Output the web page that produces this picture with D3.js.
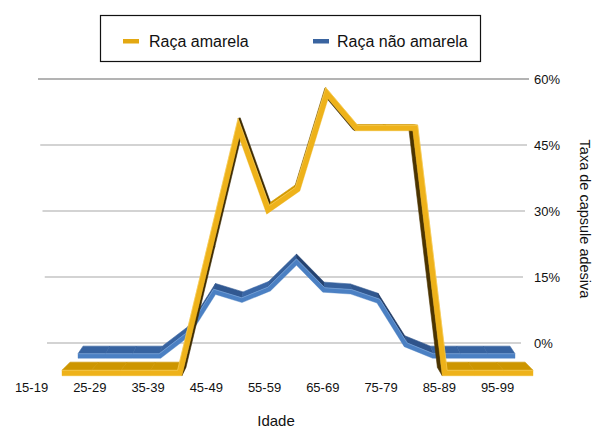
<!DOCTYPE html>
<html>
<head>
<meta charset="utf-8">
<script src="https://cdn.jsdelivr.net/npm/d3@7"></script>
<style>
  html, body { margin: 0; padding: 0; background: #fff; }
  svg { display: block; font-family: "Liberation Sans", Arial, Helvetica, sans-serif; }
</style>
</head>
<body>
<svg id="chart" width="595" height="428"></svg>
<script>
// ---- data ----
const categories = ["15-19","20-24","25-29","30-34","35-39","40-44","45-49","50-54","55-59",
                    "60-64","65-69","70-74","75-79","80-84","85-89","90-94","95-99"];
const tickLabels = ["15-19","25-29","35-39","45-49","55-59","65-69","75-79","85-89","95-99"];
const yellowValues = [0,0,0,0,0,25,50,33.3,37.5,57.1,50,50,50,0,0,0,0];   // Raça amarela
const blueValues   = [0,0,0,0,4.5,13.8,12,14.4,20.2,14.2,13.8,11.8,2.4,0,0,0,0]; // Raça não amarela
const yTicks = [0,15,30,45,60];
const seriesNames = ["Raça amarela","Raça não amarela"];

const svg = d3.select("#chart");

// ---- scales ----
const xLabel  = d3.scalePoint().domain(categories).range([31, 497]);
const xYellow = d3.scalePoint().domain(categories).range([62, 533]);
const xBlue   = d3.scalePoint().domain(categories).range([78, 515]);
const yWall   = d3.scaleLinear().domain([0, 60]).range([343, 79]);
const yYellow = d3.scaleLinear().domain([0, 60]).range([373, 79]);
const yBlue   = d3.scaleLinear().domain([0, 60]).range([356, 77]);
const gridLeft  = d3.scaleLinear().domain([0, 60]).range([47, 38]);
const gridRight = d3.scaleLinear().domain([0, 60]).range([521, 529]);

// ---- back wall gridlines ----
svg.append("g").selectAll("line").data(yTicks).join("line")
  .attr("x1", d => gridLeft(d)).attr("x2", d => gridRight(d))
  .attr("y1", d => yWall(d)).attr("y2", d => yWall(d))
  .attr("stroke", d => d === 60 ? "#9a9a9a" : "#c4c4c4")
  .attr("stroke-width", 1.6);

// y tick labels (right)
svg.append("g").selectAll("text").data(yTicks).join("text")
  .attr("x", 534).attr("y", d => yWall(d)).attr("dy", "0.35em")
  .attr("font-size", 13).attr("fill", "#111")
  .text(d => d + "%");

// y axis title
svg.append("text")
  .attr("transform", "translate(580,219) rotate(90)")
  .attr("text-anchor", "middle").attr("font-size", 14.5).attr("fill", "#111")
  .text("Taxa de capsule adesiva");

// ---- 3D ribbon ----
function ribbon(g, pts, w, cols, V, fx, fy) {
  const n = pts.length;
  const dirs = [], norms = [];
  for (let i = 0; i < n - 1; i++) {
    const dx = pts[i+1][0] - pts[i][0], dy = pts[i+1][1] - pts[i][1];
    const L = Math.hypot(dx, dy);
    dirs.push([dx / L, dy / L]);
    norms.push([dy / L, -dx / L]);
  }
  const U = [], Lo = [];
  for (let i = 0; i < n; i++) {
    let m, len;
    if (i === 0) { m = norms[0]; len = w / 2; }
    else if (i === n - 1) { m = norms[n - 2]; len = w / 2; }
    else {
      const a = norms[i-1], b = norms[i];
      let mx = a[0] + b[0], my = a[1] + b[1];
      const ml = Math.hypot(mx, my) || 1;
      m = [mx / ml, my / ml];
      const c = m[0] * a[0] + m[1] * a[1];
      len = Math.min((w / 2) / Math.max(c, 0.05), w * 2.2);
    }
    U.push([pts[i][0] + m[0] * len, pts[i][1] + m[1] * len]);
    Lo.push([pts[i][0] - m[0] * len, pts[i][1] - m[1] * len]);
  }
  const back = p => [p[0] + (V[0] - p[0]) * fx, p[1] + (V[1] - p[1]) * fy];
  const lx = -0.35, ly = -1, ll = Math.hypot(lx, ly);
  const shade = d3.interpolateRgb(cols.dark, cols.top);
  const faces = [];
  function edge(a, b, nn) {
    const mid = [(a[0] + b[0]) / 2, (a[1] + b[1]) / 2];
    const bm = back(mid);
    const o = [bm[0] - mid[0], bm[1] - mid[1]];
    if (nn[0] * o[0] + nn[1] * o[1] <= 0) return;
    const lit = Math.max(0, Math.min(1, (nn[0] * lx + nn[1] * ly) / ll));
    faces.push({ poly: [a, b, back(b), back(a)], color: shade(Math.pow(lit, 1.6)) });
  }
  for (let i = 0; i < n - 1; i++) {
    edge(U[i], U[i+1], norms[i]);
    edge(Lo[i], Lo[i+1], [-norms[i][0], -norms[i][1]]);
  }
  edge(Lo[0], U[0], [-dirs[0][0], -dirs[0][1]]);
  edge(U[n-1], Lo[n-1], dirs[n-2]);
  const toPath = p => "M" + p.map(q => q[0].toFixed(2) + "," + q[1].toFixed(2)).join("L") + "Z";
  g.selectAll(null).data(faces).join("path")
    .attr("d", d => toPath(d.poly))
    .attr("fill", d => d.color)
    .attr("stroke", d => d.color).attr("stroke-width", 0.6).attr("stroke-linejoin", "round");
  const front = U.concat(Lo.slice().reverse());
  g.append("path").attr("d", toPath(front))
    .attr("fill", cols.front).attr("stroke", cols.front).attr("stroke-width", 0.4);
  g.append("path").attr("d", d3.line()(U))
    .attr("fill", "none").attr("stroke", cols.hi).attr("stroke-width", 0.9).attr("opacity", 0.7);
}

const blueCols   = { front: "#4b80c3", top: "#3a67a6", dark: "#1c355e", hi: "#7fa9dc" };
const yellowCols = { front: "#eeb21a", top: "#dba000", dark: "#3d2a00", hi: "#f8cf5c" };

const blueG = svg.append("g");
ribbon(blueG, categories.map((c, i) => [xBlue(c), yBlue(blueValues[i])]), 4.5, blueCols, [297, 100], 0.023, 0.03);
const yellowG = svg.append("g");
ribbon(yellowG, categories.map((c, i) => [xYellow(c), yYellow(yellowValues[i])]), 5.5, yellowCols, [300, 100], 0.034, 0.03);

// ---- x axis labels ----
const xAxis = d3.axisBottom(xLabel).tickValues(tickLabels).tickSize(0).tickPadding(0);
const xg = svg.append("g").attr("transform", "translate(0,383)").call(xAxis);
xg.select(".domain").remove();
xg.selectAll("text").attr("font-size", 13).attr("fill", "#111")
  .attr("font-family", "'Liberation Sans', Arial, Helvetica, sans-serif");

svg.append("text").attr("x", 276).attr("y", 426).attr("text-anchor", "middle")
  .attr("font-size", 15).attr("fill", "#111").text("Idade");

// ---- legend ----
const legend = svg.append("g");
legend.append("rect").attr("x", 100.5).attr("y", 15.5).attr("width", 380).attr("height", 46)
  .attr("fill", "#fff").attr("stroke", "#111").attr("stroke-width", 1.2);
const legItems = [
  { name: seriesNames[0], color: "#e3a812", sx: 123, tx: 149 },
  { name: seriesNames[1], color: "#3a64a0", sx: 313, tx: 337 }
];
legend.selectAll("rect.sw").data(legItems).join("rect").attr("class", "sw")
  .attr("x", d => d.sx).attr("y", 39).attr("width", 16).attr("height", 4.5).attr("fill", d => d.color);
legend.selectAll("text").data(legItems).join("text")
  .attr("x", d => d.tx).attr("y", 41).attr("dy", "0.35em")
  .attr("font-size", 16).attr("fill", "#111").text(d => d.name);
</script>
</body>
</html>
